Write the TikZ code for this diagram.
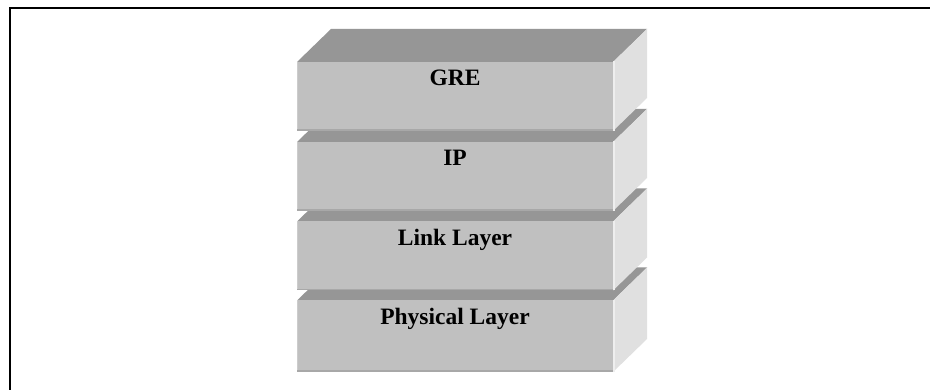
\documentclass[tikz,border=0pt]{standalone}
\usepackage{fontspec}
\setmainfont{Liberation Serif}
\begin{document}
\begin{tikzpicture}[x=1pt,y=-1pt]
\definecolor{frontc}{RGB}{192,192,192}
\definecolor{topc}{RGB}{150,150,150}
\definecolor{sidec}{RGB}{224,224,224}
\definecolor{sidehl}{RGB}{238,238,238}
\definecolor{bottomc}{RGB}{168,168,168}
\definecolor{lefthl}{RGB}{204,204,204}
\tikzset{
  lbl/.style={font=\fontsize{23.5}{26}\selectfont\bfseries, text=black, inner sep=0pt, anchor=base},
  frameline/.style={line width=2pt, black}
}
\useasboundingbox (0,0) rectangle (930,390);
\fill[white] (0,0) rectangle (930,390);
\draw[frameline] (10,390) -- (10,7.7) -- (930,7.7);
\foreach \t/\b/\n/\s in {300.5/372/phy/Physical Layer, 221.5/290.5/link/Link Layer, 142/211/ip/IP, 62/131/gre/GRE} {
  \fill[topc] (297,\t) -- (331,\t-33) -- (647,\t-33) -- (613,\t) -- cycle;
  \fill[sidec] (613,\t) -- (647,\t-33) -- (647,\b-33) -- (613,\b) -- cycle;
  \fill[frontc] (297,\t) rectangle (613,\b);
  \draw[bottomc, line width=1.5pt] (297,\b-0.75) -- (613,\b-0.75);
  \draw[lefthl, line width=1pt] (297.5,\t) -- (297.5,\b-1.5);
  \draw[sidehl, line width=1.5pt] (613.75,\t-0.5) -- (613.75,\b);
  \node[lbl] (\n) at (455,\t+24) {\s};
}
\end{tikzpicture}
\end{document}
